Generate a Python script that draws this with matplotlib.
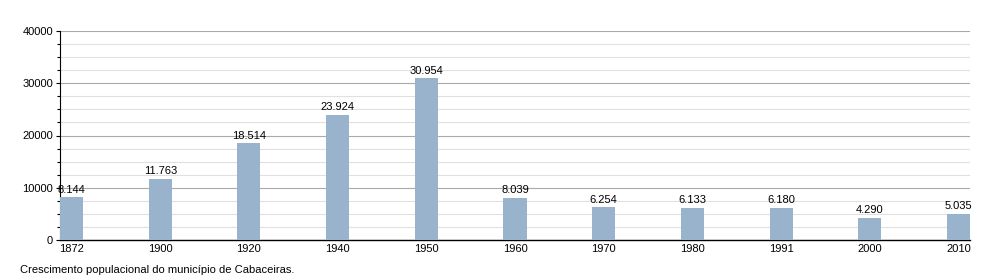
import matplotlib
matplotlib.use("Agg")
import matplotlib.pyplot as plt
from matplotlib.ticker import MultipleLocator

years = ["1872", "1900", "1920", "1940", "1950", "1960", "1970", "1980", "1991", "2000", "2010"]
population = [8144, 11763, 18514, 23924, 30954, 8039, 6254, 6133, 6180, 4290, 5035]
caption = "Crescimento populacional do município de Cabaceiras."

plt.rcParams['font.family'] = ['Liberation Sans', 'DejaVu Sans']

fig = plt.figure(figsize=(10, 2.8), dpi=100)
ax = fig.add_axes([0.06, 1 - 240 / 280, 0.91, (240 - 31) / 280])

x = list(range(len(years)))
ax.bar(x, population, width=0.26, color="#99b3cc", zorder=3)
for xi, v in zip(x, population):
    ax.text(xi, v + 500, f"{v:,}".replace(",", "."), ha="center", va="bottom",
            fontsize=8, color="#000000", zorder=4)

ax.set_xlim(-0.13, len(years) - 1 + 0.13)
ax.set_ylim(0, 40000)
ax.set_xticks(x)
ax.set_xticklabels(years, fontsize=8)
ax.yaxis.set_major_locator(MultipleLocator(10000))
ax.yaxis.set_minor_locator(MultipleLocator(2500))
ax.tick_params(axis="y", which="major", labelsize=8, length=3, width=0.8, pad=2)
ax.tick_params(axis="y", which="minor", length=2, width=0.8)
ax.tick_params(axis="x", length=0, pad=3)
ax.grid(axis="y", which="major", color="#aaaaaa", linewidth=0.8, zorder=1)
ax.grid(axis="y", which="minor", color="#e0e0e0", linewidth=0.8, zorder=0)
ax.set_axisbelow(True)
for s in ["top", "right"]:
    ax.spines[s].set_visible(False)
ax.spines["left"].set_linewidth(0.8)
ax.spines["bottom"].set_linewidth(1.0)

fig.text(0.02, 1 - 270 / 280, caption, fontsize=8, ha="left", va="center")

fig.savefig("out.png", dpi=100)
